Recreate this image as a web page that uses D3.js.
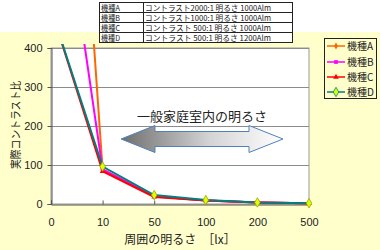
<!DOCTYPE html>
<html><head><meta charset="utf-8">
<script src="https://cdn.jsdelivr.net/npm/d3@7"></script>
<style>
html,body{margin:0;padding:0;background:#fff;}
svg{display:block;font-family:"Noto Sans CJK JP","Noto Sans",sans-serif;}
</style></head>
<body><svg id="c" width="380" height="250"></svg>
<script>
const categories = ["0","10","50","100","200","500"];
const seriesNames = ["機種A","機種B","機種C","機種D"];
const seriesA = [2000, 88, 20, 9, 4, 1.8];
const seriesB = [1000, 89, 20, 9, 4, 1.8];
const seriesC = [500, 84, 18, 9, 4, 1.8];
const seriesD = [500, 96, 23, 10, 4, 2];
const yTicks = [0, 100, 200, 300, 400];
const tableModels = ["機種A","機種B","機種C","機種D"];
const tableSpecs = ["コントラスト2000:1 明るさ 1000Alm","コントラスト1000:1 明るさ 1000Alm","コントラスト 500:1 明るさ 1000Alm","コントラスト 500:1 明るさ 1200Alm"];
const annotation = "一般家庭室内の明るさ";
const yTitle = "実際コントラスト比";
const xTitle = "周囲の明るさ　［lx］";

const series = [
  {name: seriesNames[0], values: seriesA, color: "#FF6600", fill: "#FF6600", shape: d3.symbolDiamond},
  {name: seriesNames[1], values: seriesB, color: "#FF00FF", fill: "#FF00FF", shape: d3.symbolSquare},
  {name: seriesNames[2], values: seriesC, color: "#FF0000", fill: "#FF0000", shape: d3.symbolTriangle},
  {name: seriesNames[3], values: seriesD, color: "#008080", fill: "#DDFF00", shape: d3.symbolDiamond}
];

const svg = d3.select("#c");
svg.append("rect").attr("x",0).attr("y",32).attr("width",380).attr("height",218).attr("fill","#FFFFCC");

const L = 51, R = 309, T = 48, B = 204;
const x = d3.scalePoint().domain(categories).range([L, R]).padding(0);
const y = d3.scaleLinear().domain([0, 400]).range([B, T]);

svg.append("rect").attr("x",L).attr("y",T).attr("width",R-L).attr("height",B-T).attr("fill","#fff").attr("stroke","#999").attr("stroke-width",1);

svg.append("g").selectAll("line").data(yTicks.filter(d=>d>0)).join("line")
  .attr("x1",L).attr("x2",R).attr("y1",d=>Math.round(y(d))+0.5).attr("y2",d=>Math.round(y(d))+0.5)
  .attr("stroke","#8c8c8c").attr("stroke-width",1);

const yAxis = svg.append("g").attr("transform",`translate(${L+0.5},0)`)
  .call(d3.axisLeft(y).tickValues(yTicks).tickSize(4).tickPadding(5));
yAxis.select(".domain").attr("stroke","#555");
yAxis.selectAll(".tick line").attr("stroke","#555");
yAxis.selectAll("text").attr("font-size",11).attr("fill","#222").attr("font-family","'Liberation Sans',Arial,sans-serif");

const xAxis = svg.append("g").attr("transform",`translate(0,${B+0.5})`)
  .call(d3.axisBottom(x).tickSize(-4).tickPadding(14));
xAxis.select(".domain").attr("stroke","#555");
xAxis.selectAll(".tick line").attr("stroke","#555");
xAxis.selectAll("text").attr("font-size",11).attr("fill","#222").attr("font-family","'Liberation Sans',Arial,sans-serif");

svg.append("clipPath").attr("id","clip").append("rect").attr("x",L-4).attr("y",44).attr("width",R-L+8).attr("height",B-44+6);

const line = d3.line().x((d,i)=>x(categories[i])).y(d=>y(d));
const lg = svg.append("g").attr("clip-path","url(#clip)");
series.forEach(s=>{
  lg.append("path").datum(s.values).attr("d",line).attr("fill","none")
    .attr("stroke",s.color).attr("stroke-width",2);
});
series.forEach(s=>{
  lg.append("g").selectAll("path").data(s.values).join("path")
    .attr("transform",(d,i)=>`translate(${x(categories[i])},${y(d)})`)
    .attr("d",d3.symbol().type(s.shape).size(s.name===seriesNames[3]?26:14))
    .attr("fill",s.fill).attr("stroke",s.name===seriesNames[3]?"#99AA00":"none").attr("stroke-width",0.8);
});

const defs = svg.append("defs");
const grad = defs.append("linearGradient").attr("id","ag").attr("x1","0%").attr("x2","100%");
grad.append("stop").attr("offset","0%").attr("stop-color","#6e6e6e");
grad.append("stop").attr("offset","55%").attr("stop-color","#d4d4d4");
grad.append("stop").attr("offset","100%").attr("stop-color","#ffffff");
const ax0 = 121, ax1 = 283, ay = 139, hw = 34, sh = 7.5, hh = 13.5;
const arrowPts = [[ax0,ay],[ax0+hw,ay-hh],[ax0+hw,ay-sh],[ax1-hw,ay-sh],[ax1-hw,ay-hh],[ax1,ay],[ax1-hw,ay+hh],[ax1-hw,ay+sh],[ax0+hw,ay+sh],[ax0+hw,ay+hh]];
svg.append("path").attr("d",d3.line()(arrowPts)+"Z").attr("fill","url(#ag)").attr("stroke","#4F81BD").attr("stroke-width",1);

svg.append("text").attr("x",202).attr("y",121).attr("text-anchor","middle").attr("font-size",13).attr("fill","#222").text(annotation);

svg.append("text").attr("transform","translate(20,125) rotate(-90)").attr("text-anchor","middle").attr("font-size",11)
  .attr("textLength",88).attr("lengthAdjust","spacingAndGlyphs").attr("fill","#222").text(yTitle);
svg.append("text").attr("x",180).attr("y",244).attr("text-anchor","middle").attr("font-size",12).attr("fill","#222").text(xTitle);

const leg = svg.append("g");
leg.append("rect").attr("x",324.5).attr("y",38.5).attr("width",52).attr("height",60).attr("fill","#FFFFCC").attr("stroke","#222");
const legY = [46, 62, 77, 92];
series.forEach((s,i)=>{
  leg.append("line").attr("x1",327).attr("x2",345).attr("y1",legY[i]).attr("y2",legY[i]).attr("stroke",s.color).attr("stroke-width",1.5);
  leg.append("path").attr("transform",`translate(336,${legY[i]})`).attr("d",d3.symbol().type(s.shape).size(i===3?26:14))
    .attr("fill",s.fill).attr("stroke",i===3?"#008080":"none").attr("stroke-width",0.8);
  leg.append("text").attr("x",347).attr("y",legY[i]+4).attr("font-size",10).attr("fill","#222").text(s.name);
});

const tg = svg.append("g");
const tx0 = 99.5, tx1 = 143.5, tx2 = 292.5, ty0 = 2.5, rh = 10;
tg.append("rect").attr("x",tx0).attr("y",ty0).attr("width",tx2-tx0).attr("height",rh*4).attr("fill","#fff").attr("stroke","#222").attr("stroke-width",1);
tg.append("line").attr("x1",tx1).attr("x2",tx1).attr("y1",ty0).attr("y2",ty0+rh*4).attr("stroke","#222");
tableModels.forEach((m,i)=>{
  if(i>0) tg.append("line").attr("x1",tx0).attr("x2",tx2).attr("y1",ty0+rh*i).attr("y2",ty0+rh*i).attr("stroke","#222");
  tg.append("text").attr("x",tx0+1.5).attr("y",ty0+rh*i+8.3).attr("font-size",8)
    .attr("textLength",19).attr("lengthAdjust","spacingAndGlyphs").attr("fill","#222").text(m);
  tg.append("text").attr("x",tx1+1.5).attr("y",ty0+rh*i+8.3).attr("font-size",8)
    .attr("textLength",126).attr("lengthAdjust","spacingAndGlyphs").attr("fill","#222").text(tableSpecs[i]);
});
</script></body></html>
